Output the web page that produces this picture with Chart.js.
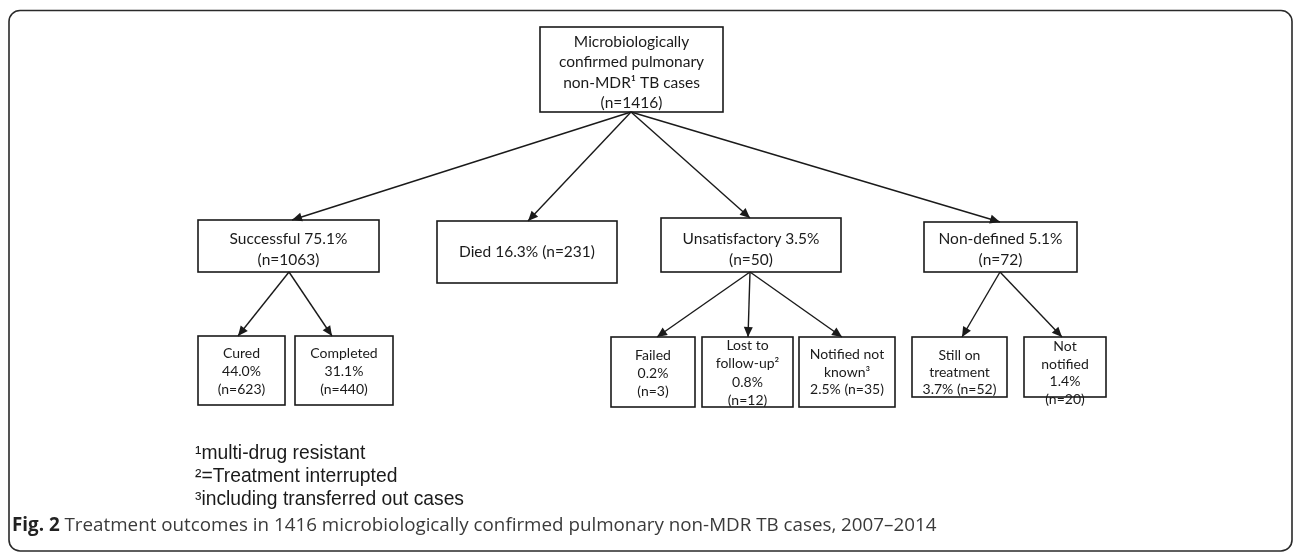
<!DOCTYPE html>
<html>
<head>
<meta charset="utf-8">
<script src="https://cdn.jsdelivr.net/npm/chart.js@4.4.1/dist/chart.umd.min.js"></script>
<style>
  html, body { margin: 0; padding: 0; background: #fff; }
  #wrap { position: relative; width: 1295px; height: 552px; }
</style>
</head>
<body>
<div id="wrap"><canvas id="c"></canvas></div>
<script>
// ---------------- DATA ----------------
const nodeNames = [
  "Microbiologically\nconfirmed pulmonary\nnon-MDR¹ TB cases",
  "Successful", "Died", "Unsatisfactory", "Non-defined",
  "Cured", "Completed",
  "Failed", "Lost to\nfollow-up²", "Notified not\nknown³",
  "Still on\ntreatment", "Not\nnotified"
];
const nodePercents = [null, 75.1, 16.3, 3.5, 5.1, 44.0, 31.1, 0.2, 0.8, 2.5, 3.7, 1.4];
const nodeCounts   = [1416, 1063, 231, 50, 72, 623, 440, 3, 12, 35, 52, 20];
const nodeParents  = [-1, 0, 0, 0, 0, 1, 1, 3, 3, 3, 4, 4];
const nodeFormats  = [
  "{name}\n(n={n})",
  "{name} {p}%\n(n={n})", "{name} {p}% (n={n})", "{name} {p}%\n(n={n})", "{name} {p}%\n(n={n})",
  "{name}\n{p}%\n(n={n})", "{name}\n{p}%\n(n={n})",
  "{name}\n{p}%\n(n={n})", "{name}\n{p}%\n(n={n})", "{name}\n{p}% (n={n})",
  "{name}\n{p}% (n={n})", "{name}\n{p}%\n(n={n})"
];
const footnotes = ["¹multi-drug resistant", "²=Treatment interrupted", "³including transferred out cases"];
const captionBold = "Fig. 2";
const captionText = " Treatment outcomes in 1416 microbiologically confirmed pulmonary non-MDR TB cases, 2007–2014";

// ---------------- LAYOUT (positions / sizes, in axis units) ----------------
const layout = [
  {x0:540, x1:723, y0:27,  y1:112, tipX:631,  outX:631,  ty:72.5, fs:15.5, lh:20.5},
  {x0:198, x1:379, y0:220, y1:272, tipX:292,  outX:289,  ty:249.5, fs:15.5, lh:21},
  {x0:437, x1:617, y0:221, y1:283, tipX:528,  outX:527,  ty:252, fs:15.5, lh:21},
  {x0:661, x1:841, y0:218, y1:272, tipX:750,  outX:750,  ty:249.5, fs:15.5, lh:21},
  {x0:924, x1:1077,y0:222, y1:272, tipX:1000, outX:1000, ty:249.5, fs:15.5, lh:21},
  {x0:198, x1:285, y0:336, y1:405, tipX:238,  outX:241,  ty:371, fs:14, lh:18},
  {x0:295, x1:393, y0:336, y1:405, tipX:332,  outX:344,  ty:371, fs:14, lh:18},
  {x0:611, x1:695, y0:337, y1:407, tipX:657,  outX:653,  ty:373, fs:14, lh:18},
  {x0:702, x1:793, y0:337, y1:407, tipX:748,  outX:748,  ty:373, fs:14, lh:18.5},
  {x0:799, x1:895, y0:337, y1:407, tipX:842,  outX:847,  ty:372, fs:14, lh:17.5},
  {x0:912, x1:1007,y0:337, y1:397, tipX:962,  outX:960,  ty:372, fs:14, lh:17},
  {x0:1024,x1:1106,y0:337, y1:397, tipX:1062, outX:1065, ty:373, fs:14, lh:17.7}
];
const BOX_FONT = "Lato, 'Open Sans', sans-serif";
const INK = "#1a1a1a";

function nodeLines(i) {
  const p = nodePercents[i] == null ? "" : nodePercents[i].toFixed(1);
  return nodeFormats[i].replace("{name}", nodeNames[i]).replace("{p}", p).replace("{n}", nodeCounts[i]).split("\n");
}

// edges as line datasets (parent bottom -> child top)
const edgeDatasets = [];
nodeParents.forEach((p, i) => {
  if (p < 0) return;
  edgeDatasets.push({
    data: [{x: layout[p].outX, y: layout[p].y1}, {x: layout[i].tipX, y: layout[i].y0}],
    showLine: true, pointRadius: 0, borderColor: INK, borderWidth: 1.4, fill: false
  });
});

const flowPlugin = {
  id: 'flow',
  beforeDraw(chart) {
    const ctx = chart.ctx;
    ctx.save();
    ctx.fillStyle = '#fff';
    ctx.fillRect(0, 0, chart.width, chart.height);
    const xs = chart.scales.x, ys = chart.scales.y;
    const L = xs.getPixelForValue(9), R = xs.getPixelForValue(1292);
    const T = ys.getPixelForValue(10.5), B = ys.getPixelForValue(551);
    const r = 11;
    ctx.strokeStyle = '#2a2a2a'; ctx.lineWidth = 1.6;
    ctx.beginPath();
    ctx.moveTo(L + r, T);
    ctx.lineTo(R - r, T); ctx.arcTo(R, T, R, T + r, r);
    ctx.lineTo(R, B - r); ctx.arcTo(R, B, R - r, B, r);
    ctx.lineTo(L + r, B); ctx.arcTo(L, B, L, B - r, r);
    ctx.lineTo(L, T + r); ctx.arcTo(L, T, L + r, T, r);
    ctx.stroke();
    ctx.restore();
  },
  afterDatasetsDraw(chart) {
    const ctx = chart.ctx;
    const xs = chart.scales.x, ys = chart.scales.y;
    ctx.save();
    chart.data.datasets.forEach((ds, di) => {
      const pts = chart.getDatasetMeta(di).data;
      const a = pts[0], b = pts[1];
      const ang = Math.atan2(b.y - a.y, b.x - a.x);
      const len = 10, w = 4.5;
      ctx.fillStyle = INK;
      ctx.beginPath();
      ctx.moveTo(b.x, b.y);
      ctx.lineTo(b.x - len * Math.cos(ang) + w * Math.sin(ang), b.y - len * Math.sin(ang) - w * Math.cos(ang));
      ctx.lineTo(b.x - len * Math.cos(ang) - w * Math.sin(ang), b.y - len * Math.sin(ang) + w * Math.cos(ang));
      ctx.closePath();
      ctx.fill();
    });
    layout.forEach((g, i) => {
      const x0 = xs.getPixelForValue(g.x0), x1 = xs.getPixelForValue(g.x1);
      const y0 = ys.getPixelForValue(g.y0), y1 = ys.getPixelForValue(g.y1);
      ctx.strokeStyle = INK; ctx.lineWidth = 1.6;
      ctx.strokeRect(x0, y0, x1 - x0, y1 - y0);
      const lines = nodeLines(i);
      ctx.fillStyle = INK;
      ctx.font = g.fs + "px " + BOX_FONT;
      ctx.textAlign = 'center'; ctx.textBaseline = 'middle';
      const cx = (x0 + x1) / 2;
      const cy = ys.getPixelForValue(g.ty);
      const start = cy - (lines.length - 1) * g.lh / 2;
      lines.forEach((t, k) => ctx.fillText(t, cx, start + k * g.lh));
    });
    ctx.textAlign = 'left'; ctx.textBaseline = 'middle';
    ctx.font = "19.3px 'Liberation Sans', Arial, sans-serif";
    ctx.fillStyle = INK;
    footnotes.forEach((t, k) => ctx.fillText(t, xs.getPixelForValue(195), ys.getPixelForValue(454 + k * 23)));
    const capY = ys.getPixelForValue(526);
    ctx.font = "bold 18.8px 'Open Sans', sans-serif";
    ctx.fillStyle = '#222';
    const bx = xs.getPixelForValue(12);
    ctx.fillText(captionBold, bx, capY);
    const bw = ctx.measureText(captionBold).width;
    ctx.font = "18.8px 'Open Sans', sans-serif";
    ctx.fillStyle = '#3a3a3a';
    ctx.fillText(captionText, bx + bw, capY);
    ctx.restore();
  }
};

new Chart(document.getElementById('c'), {
  type: 'scatter',
  data: { datasets: edgeDatasets },
  options: {
    responsive: true, maintainAspectRatio: false, animation: false,
    layout: { padding: 0 },
    plugins: { legend: { display: false }, tooltip: { enabled: false } },
    scales: {
      x: { type: 'linear', min: 0, max: 1295, display: false },
      y: { type: 'linear', min: 0, max: 552, reverse: true, display: false }
    }
  },
  plugins: [flowPlugin]
});
</script>
</body>
</html>
